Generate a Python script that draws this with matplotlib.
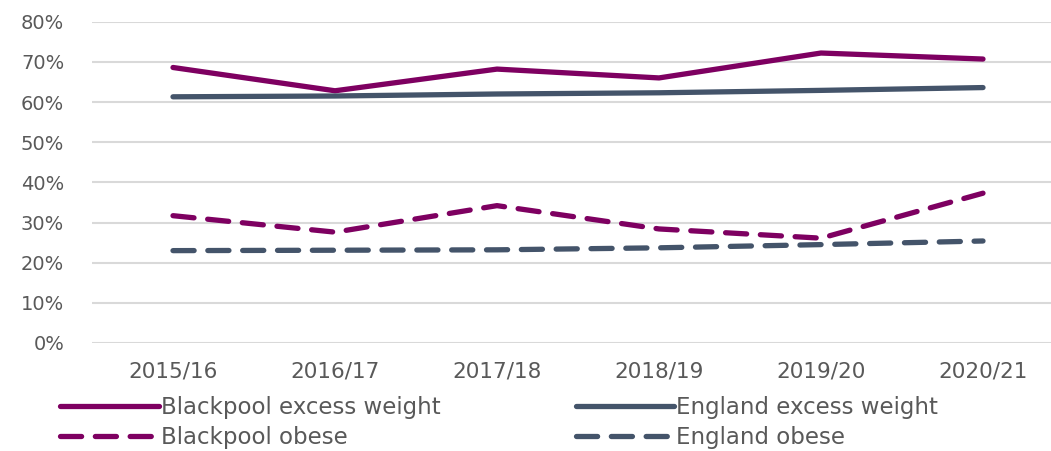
import matplotlib
matplotlib.use("Agg")
import matplotlib.pyplot as plt
from matplotlib.ticker import FuncFormatter

years = ["2015/16", "2016/17", "2017/18", "2018/19", "2019/20", "2020/21"]
blackpool_excess = [68.6, 62.8, 68.2, 66.0, 72.2, 70.7]
england_excess = [61.3, 61.5, 62.0, 62.3, 62.9, 63.6]
blackpool_obese = [31.7, 27.6, 34.2, 28.4, 26.1, 37.3]
england_obese = [23.0, 23.1, 23.2, 23.7, 24.5, 25.4]

purple = "#7E0061"
slate = "#44546A"
txt = "#595959"

fig = plt.figure(figsize=(10.51, 4.51), dpi=100)
ax = fig.add_axes([92/1051, 1-343/451, (1064-92)/1051, (343-21.7)/451])

x = list(range(len(years)))
lw = 3.8
dash = (4.0, 2.6)
l1, = ax.plot(x, [v/100 for v in blackpool_excess], color=purple, lw=lw,
              solid_capstyle="round", solid_joinstyle="round", label="Blackpool excess weight")
l2, = ax.plot(x, [v/100 for v in england_excess], color=slate, lw=lw,
              solid_capstyle="round", solid_joinstyle="round", label="England excess weight")
l3, = ax.plot(x, [v/100 for v in blackpool_obese], color=purple, lw=lw,
              dashes=dash, dash_capstyle="round", label="Blackpool obese")
l4, = ax.plot(x, [v/100 for v in england_obese], color=slate, lw=lw,
              dashes=dash, dash_capstyle="round", label="England obese")

ax.set_xlim(-0.5, 5.5)
ax.set_ylim(0, 0.8)
ax.set_yticks([i/10 for i in range(9)])
ax.yaxis.set_major_formatter(FuncFormatter(lambda v, p: f"{v*100:.0f}%"))
ax.set_xticks(x)
ax.set_xticklabels(years)
ax.grid(axis="y", color="#D9D9D9", lw=1.5)
ax.set_axisbelow(True)
for s in ax.spines.values():
    s.set_visible(False)
ax.tick_params(axis="both", length=0, colors=txt)
ax.tick_params(axis="y", labelsize=14, pad=20)
ax.tick_params(axis="x", labelsize=15.5, pad=13)
for lab in ax.get_yticklabels():
    lab.set_horizontalalignment("right")

leg = fig.legend(handles=[l1, l3, l2, l4], ncol=2, loc="upper left",
                 bbox_to_anchor=(60/1051, 1-396/451), frameon=False,
                 fontsize=16.5, handlelength=4.3, handletextpad=0.1,
                 columnspacing=5.9, labelspacing=0.3, borderpad=0, borderaxespad=0)
for t in leg.get_texts():
    t.set_color(txt)

fig.savefig("out.png", dpi=100)
